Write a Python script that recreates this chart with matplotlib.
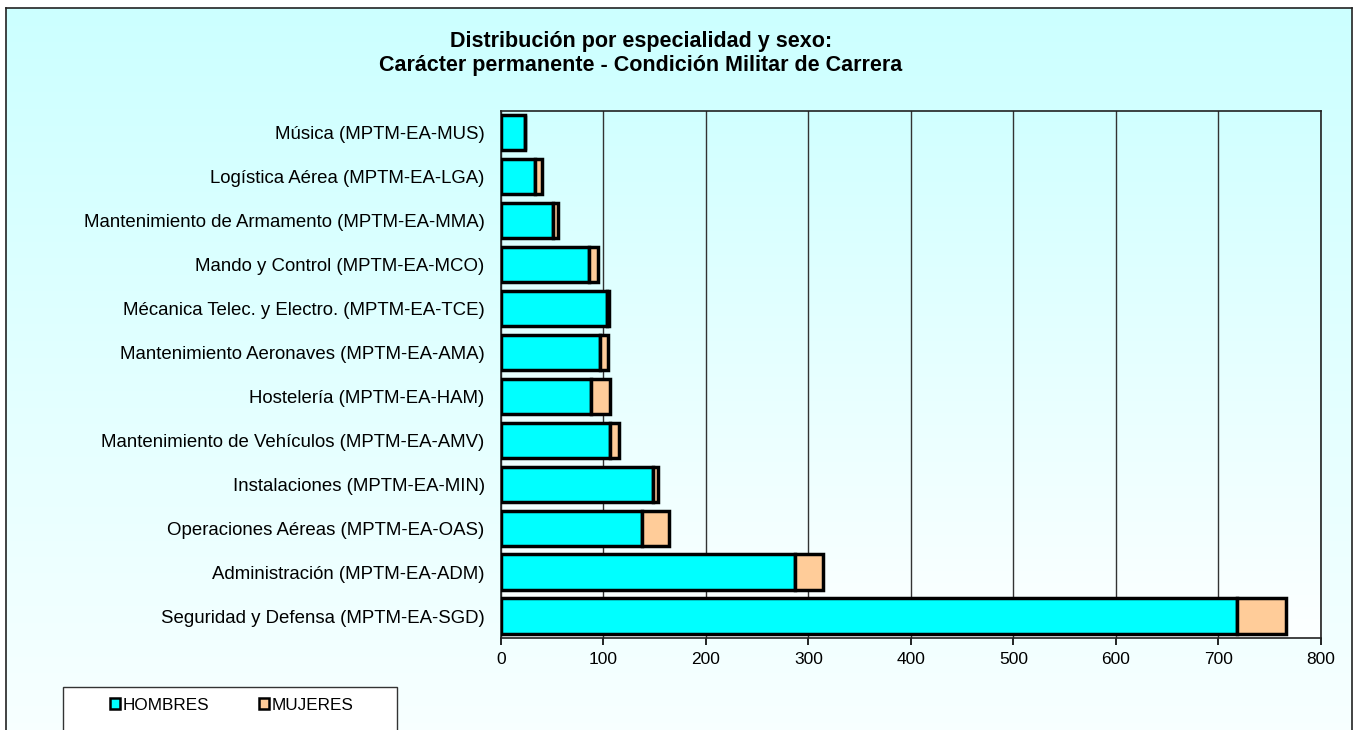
import numpy as np
import matplotlib.pyplot as plt
from matplotlib.patches import Rectangle

plt.rcParams["font.family"] = ["Liberation Sans", "DejaVu Sans"]

especialidades = [
    "Seguridad y Defensa (MPTM-EA-SGD)",
    "Administración (MPTM-EA-ADM)",
    "Operaciones Aéreas (MPTM-EA-OAS)",
    "Instalaciones (MPTM-EA-MIN)",
    "Mantenimiento de Vehículos (MPTM-EA-AMV)",
    "Hostelería (MPTM-EA-HAM)",
    "Mantenimiento Aeronaves (MPTM-EA-AMA)",
    "Mécanica Telec. y Electro. (MPTM-EA-TCE)",
    "Mando y Control (MPTM-EA-MCO)",
    "Mantenimiento de Armamento (MPTM-EA-MMA)",
    "Logística Aérea (MPTM-EA-LGA)",
    "Música (MPTM-EA-MUS)",
]
hombres = [718, 287, 138, 149, 107, 88, 97, 104, 86, 51, 33, 24]
mujeres = [48, 27, 26, 4, 8, 19, 8, 2, 9, 5, 7, 0]
x_ticks = [0, 100, 200, 300, 400, 500, 600, 700, 800]

W, H = 1354, 730
fig = plt.figure(figsize=(W / 100, H / 100), dpi=100, facecolor="white")

# fondo del gráfico con degradado cian -> blanco
bg = fig.add_axes([6 / W, 0, (1352 - 6) / W, (H - 8) / H])
grad = np.linspace(0, 1, 256).reshape(-1, 1)
top = np.array([0.80, 1.0, 1.0])
bot = np.array([0.97, 1.0, 1.0])
img = top + (bot - top) * grad[..., None]
bg.imshow(img, aspect="auto", extent=[0, 1, 0, 1])
bg.set_xticks([])
bg.set_yticks([])
for s in ["left", "right", "top"]:
    bg.spines[s].set_linewidth(1.2)
    bg.spines[s].set_color("#222222")
bg.spines["bottom"].set_visible(False)

left, right, top_px, bottom_px = 500.7, 1321, 110.5, 638
ax = fig.add_axes([left / W, 1 - bottom_px / H, (right - left) / W, (bottom_px - top_px) / H])
ax.set_facecolor("none")
pa = np.array([0.82, 1.0, 1.0])
pb = np.array([0.99, 1.0, 1.0])
ax.imshow(pa + (pb - pa) * grad[..., None], aspect="auto",
          extent=[0, 800, -0.5, len(especialidades) - 0.5], zorder=0)

y = np.arange(len(especialidades))
bars_h = ax.barh(y, hombres, height=0.8, color="#00FFFF", edgecolor="black", linewidth=2.5,
                 label="HOMBRES", zorder=3)
bars_m = ax.barh(y, mujeres, left=hombres, height=0.8, color="#FFCC99", edgecolor="black",
                 linewidth=2.5, label="MUJERES", zorder=3)

ax.set_xlim(0, 800)
ax.set_ylim(-0.5, len(especialidades) - 0.5)
ax.set_xticks(x_ticks)
ax.set_xticklabels([str(v) for v in x_ticks], fontsize=12.5)
ax.set_yticks(y)
ax.set_yticklabels(especialidades, fontsize=13.4)
ax.tick_params(axis="y", length=0, pad=11.5)
ax.tick_params(axis="x", length=5, width=1.2, pad=5)
ax.xaxis.grid(True, color="#333333", linewidth=1)
for s in ax.spines.values():
    s.set_linewidth(1.2)
    s.set_color("#222222")

fig.text(641 / W, 1 - 41 / H, "Distribución por especialidad y sexo:",
         ha="center", va="center", fontsize=15.5, fontweight="bold")
fig.text(641 / W, 1 - 66 / H, "Carácter permanente - Condición Militar de Carrera",
         ha="center", va="center", fontsize=15.5, fontweight="bold")

# recuadro de la leyenda
fig.add_artist(Rectangle((63 / W, 1 - 740 / H), 334 / W, 53 / H, transform=fig.transFigure,
                         facecolor="white", edgecolor="#333333", linewidth=1, zorder=5))
leg = fig.legend(handles=[bars_h[0], bars_m[0]], labels=["HOMBRES", "MUJERES"], ncol=2,
                 loc="center", bbox_to_anchor=(232 / W, 1 - 705 / H),
                 fontsize=12.3, frameon=False, handlelength=0.55, handleheight=0.55,
                 handletextpad=0.2, columnspacing=2.9)
leg.set_zorder(6)
for h in leg.legend_handles:
    h.set_linewidth(1.8)

fig.savefig("out.png", dpi=100)
